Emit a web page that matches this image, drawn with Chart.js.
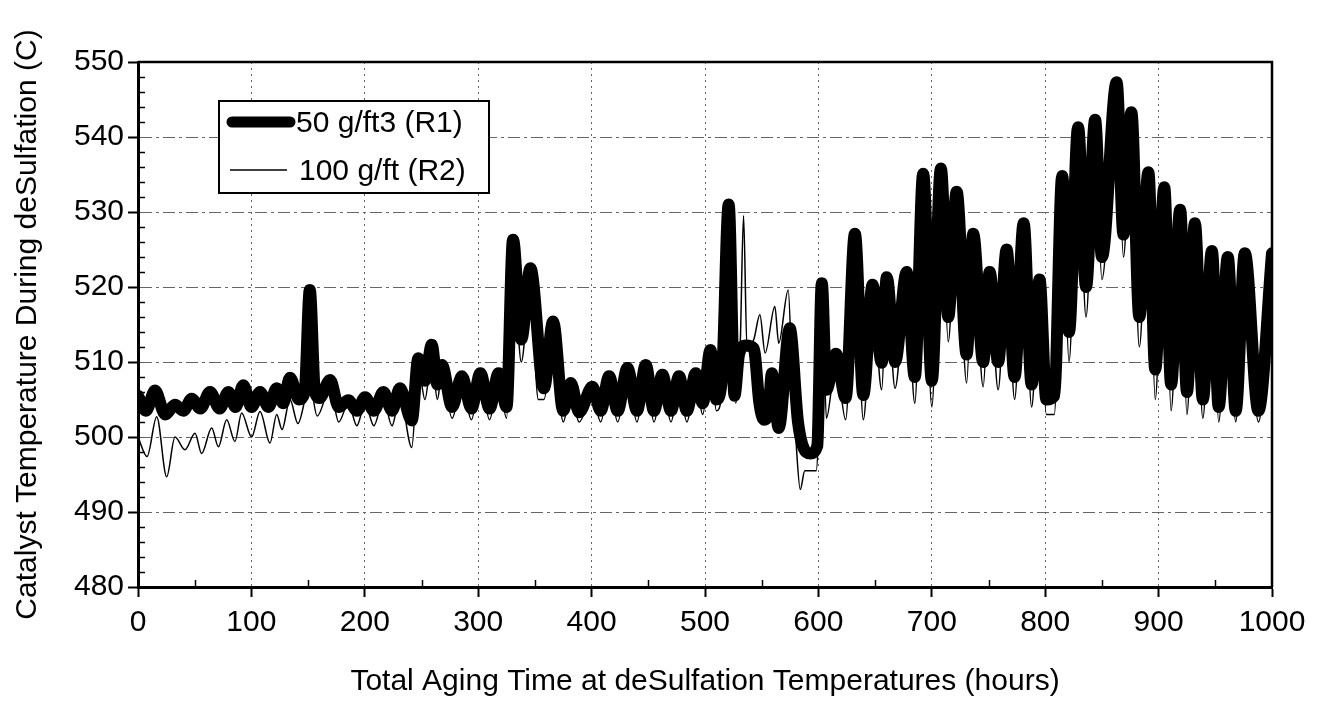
<!DOCTYPE html>
<html><head><meta charset="utf-8">
<script src="https://cdn.jsdelivr.net/npm/chart.js@4.4.0/dist/chart.umd.min.js"></script>
<style>html,body{margin:0;padding:0;background:#fff;}#wrap{width:1324px;height:702px;}</style>
</head><body><div id="wrap"><canvas id="c" width="1324" height="702" style="width:1324px;height:702px"></canvas></div>
<script>
// ---- data ----
const seriesLabels = ['50 g/ft3 (R1)', '100 g/ft (R2)'];
const xTickValues = [0,100,200,300,400,500,600,700,800,900,1000];
const yTickValues = [480,490,500,510,520,530,540,550];

const r1Hours = [0,7,15,24,32.6,40,47.3,55,63.5,72,79.7,86,92.9,100,107.6,115,122.3,128,134,142,147,151.5,156,160,169.4,177,185.5,193,200.2,208,216.4,224,231,241.4,247.2,253,259,264,268,277,285.6,294,301.9,310,318,325,330.7,338,346,358,366,375,381.6,389,400.7,408,415.4,423,431.6,440,447.7,455,462.4,470,477.1,484,491.8,498,504.8,510,515,520.9,526,530,536,543,548,552,556,559,565,574.7,582,587,593,599,603,607,615.5,624,632.2,639.6,647.8,655.8,660.3,667.6,677.8,685,692.4,700,708,714.5,721.9,730.7,736.5,745.3,751,758.5,766,773,781,788,795,801,808,815,821,829,836,844,850,863,869,876,883,891,897,905,911,919,925,932,939,947,953,961,968,976,988,1000];
const r1Temps = [505.5,503.5,506.2,503.0,504.3,503.5,505.1,503.8,506.0,503.8,506.0,504.0,506.9,504.0,506.0,504.0,506.5,504.5,507.9,505.0,506.0,519.6,506.0,505.2,507.6,504.0,504.9,503.5,505.3,503.5,506.0,503.5,506.5,502.2,510.5,507.5,512.3,507.0,509.6,504.0,508.1,503.8,508.5,503.8,508.5,504.0,526.3,513.0,522.5,506.5,515.4,503.5,507.2,503.3,506.7,503.5,508.1,503.5,509.2,503.5,509.6,503.5,508.3,503.5,508.1,503.5,508.5,504.5,511.6,505.0,508.0,531.0,505.5,511.0,512.2,511.8,504.5,502.3,503.5,508.5,501.2,514.5,502.0,498.5,497.8,498.8,520.5,506.3,511.1,505.2,527.1,505.6,520.3,509.9,521.3,510.0,522.0,508.0,535.1,507.5,535.8,516.0,532.7,511.0,527.1,510.0,522.0,510.0,525.0,508.0,528.5,507.0,521.0,505.0,505.5,534.8,514.0,541.3,520.0,542.3,524.0,547.3,527.0,543.3,516.0,535.3,509.0,533.3,507.0,530.3,506.0,528.5,505.0,524.8,504.0,524.0,503.5,524.5,503.5,524.5];

const r2Hours = [0,8,16.5,25.3,32.6,41.4,50.3,56.1,65,70.9,78.2,85.5,91.4,100.2,107.6,116.4,122.3,127,134,141,151.5,158,169.4,177,185.5,193,200.2,208,216.4,224,231,241.4,247.2,253,259,264,268,277,285.6,294,301.9,310,318,325,330.7,338,346,353,358,366,375,381.6,389,400.7,408,415.4,423,431.6,440,447.7,455,462.4,470,477.1,484,491.8,498,504.8,510,515,520.9,527,531,534,537,543,548.4,553,561.6,565,573.4,577,580,584,588,598,602,603.5,607,615.5,624,632.2,639.6,647.8,655.8,660.3,667.6,677.8,685,692.4,700,708,714.5,721.9,730.7,736.5,745.3,751,758.5,766,773,781,788,795,801,808,815,821,829,836,844,850,863,869,876,883,891,897,905,911,919,925,932,939,947,953,961,968,976,988,1000];
const r2Temps = [500.0,497.4,502.7,494.7,500.0,498.3,500.5,497.8,501.2,498.7,502.3,499.4,503.2,500.0,503.4,499.2,503.0,501.0,505.0,501.8,507.0,502.8,506.5,502.0,504.5,501.5,504.5,501.5,505.0,501.5,505.5,498.6,509.5,505.0,510.5,505.0,508.5,502.5,507.0,502.3,507.5,502.3,507.5,502.5,524.0,510.0,520.5,505.0,505.0,513.0,502.0,506.0,502.0,505.5,502.0,507.0,502.0,508.0,502.0,508.3,502.0,507.0,502.0,507.0,502.0,507.3,503.0,510.5,503.5,506.0,529.5,504.5,512.0,529.5,512.0,513.0,516.3,511.2,517.4,512.5,519.6,507.0,500.0,493.0,495.5,495.5,510.0,519.5,502.5,510.0,502.3,526.0,502.3,519.0,506.3,520.0,506.5,521.0,504.5,534.0,504.0,534.5,512.7,531.5,507.2,526.0,506.7,521.0,506.3,523.5,505.0,527.0,504.0,519.5,503.0,503.0,533.5,510.0,540.0,516.0,541.0,521.0,546.0,524.0,542.0,512.0,534.0,505.0,532.0,503.5,529.0,503.0,527.0,502.5,523.5,502.0,522.5,502.0,523.5,502.0,523.0];

// ---- build points ----
const pts = (hs, ts) => hs.map((h, i) => ({x: h, y: ts[i]}));
const FONT = 'Liberation Sans, Arial, Helvetica, sans-serif';

const framePlugin = {
  id: 'frame',
  afterDraw(chart) {
    const {ctx, chartArea: a, scales: {x, y}} = chart;
    ctx.save();
    ctx.strokeStyle = '#000';
    ctx.lineWidth = 1.5;
    for (let v = 480; v <= 550; v += 2) {
      if (v % 10 === 0) continue;
      const py = Math.round(y.getPixelForValue(v)) + 0.5;
      ctx.beginPath(); ctx.moveTo(a.left, py); ctx.lineTo(a.left + 7, py); ctx.stroke();
    }
    for (let v = 50; v < 1000; v += 100) {
      const px = Math.round(x.getPixelForValue(v)) + 0.5;
      ctx.beginPath(); ctx.moveTo(px, a.bottom); ctx.lineTo(px, a.bottom - 7); ctx.stroke();
    }
    ctx.lineWidth = 2.5;
    ctx.beginPath();
    ctx.moveTo(a.left, a.top); ctx.lineTo(a.right, a.top); ctx.lineTo(a.right, a.bottom);
    ctx.stroke();
    // legend box
    const bx = 219, by = 101, bw = 270, bh = 92;
    ctx.fillStyle = '#fff';
    ctx.fillRect(bx, by, bw, bh);
    ctx.lineWidth = 2;
    ctx.strokeRect(bx, by, bw, bh);
    const ds = chart.data.datasets;
    const rows = [122, 170];
    ds.forEach((d, i) => {
      ctx.lineWidth = i === 0 ? 11 : d.borderWidth;
      ctx.lineCap = i === 0 ? 'round' : 'butt';
      ctx.beginPath();
      ctx.moveTo(i === 0 ? 232 : 230, rows[i]);
      ctx.lineTo(i === 0 ? 290 : 287, rows[i]);
      ctx.stroke();
      ctx.fillStyle = '#000';
      ctx.font = '30px ' + FONT;
      ctx.textBaseline = 'middle';
      ctx.textAlign = 'left';
      ctx.fillText(d.label, i === 0 ? 296 : 299, rows[i] + 2);
    });
    ctx.restore();
  }
};

new Chart(document.getElementById('c'), {
  type: 'line',
  data: {
    datasets: [
      {label: seriesLabels[0], data: pts(r1Hours, r1Temps), borderColor: '#000', borderWidth: 12,
       pointRadius: 0, cubicInterpolationMode: 'monotone', borderCapStyle: 'round', borderJoinStyle: 'round', order: 2},
      {label: seriesLabels[1], data: pts(r2Hours, r2Temps), borderColor: '#000', borderWidth: 1.5,
       pointRadius: 0, cubicInterpolationMode: 'monotone', order: 1}
    ]
  },
  options: {
    responsive: false,
    animation: false,
    devicePixelRatio: 1,
    layout: {padding: {left: 0, right: 52, top: 62, bottom: 0}},
    plugins: {legend: {display: false}, tooltip: {enabled: false}},
    scales: {
      x: {
        type: 'linear', min: 0, max: 1000,
        afterFit: s => { s.height = 115; },
        afterBuildTicks: s => { s.ticks = xTickValues.map(v => ({value: v})); },
        ticks: {color: '#000', font: {family: FONT, size: 30}, padding: 8, maxRotation: 0, autoSkip: false,
                callback: v => String(v)},
        grid: {color: '#666', lineWidth: 1, tickLength: 10, tickColor: '#000', tickWidth: 2},
        border: {color: '#000', width: 3, dash: [2, 4]},
        title: {display: true, text: 'Total Aging Time at deSulfation Temperatures (hours)', color: '#000',
                font: {family: FONT, size: 30}, padding: {top: 0, bottom: 2}}
      },
      y: {
        min: 480, max: 550,
        afterFit: s => { s.width = 138; },
        afterBuildTicks: s => { s.ticks = yTickValues.map(v => ({value: v})); },
        ticks: {color: '#000', font: {family: FONT, size: 30}, padding: 4, callback: v => String(v)},
        grid: {color: '#666', lineWidth: 1, tickLength: 10, tickColor: '#000', tickWidth: 2},
        border: {color: '#000', width: 3, dash: [12, 4, 3, 4]},
        title: {display: true, text: 'Catalyst Temperature During deSulfation (C)', color: '#000',
                font: {family: FONT, size: 30}, padding: {top: 10, bottom: 0}}
      }
    }
  },
  plugins: [framePlugin]
});
</script></body></html>
